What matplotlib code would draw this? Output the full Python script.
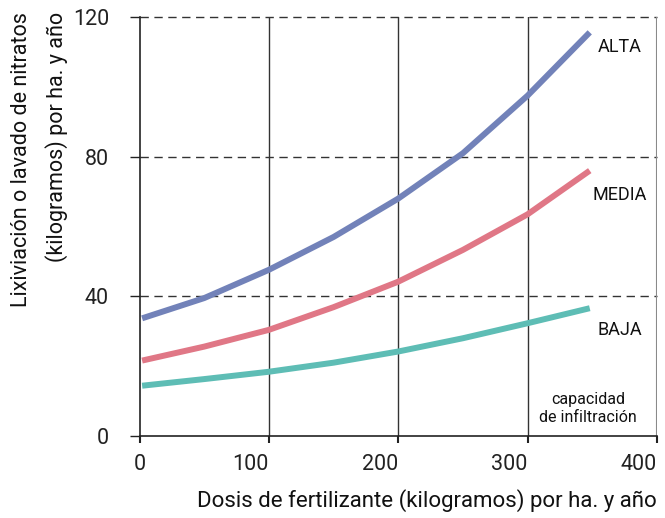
import matplotlib
matplotlib.use("Agg")
import matplotlib.pyplot as plt

plt.rcParams['font.family'] = ['Roboto', 'DejaVu Sans']

# dosis de fertilizante (kg/ha/año)
dosis = [2, 50, 100, 150, 200, 250, 300, 348]
# lixiviación de nitratos por capacidad de infiltración
alta = [33.7, 39.5, 47.6, 57.0, 68.0, 81.0, 97.5, 115.6]
media = [21.6, 25.6, 30.4, 36.9, 44.2, 53.3, 63.5, 76.0]
baja = [14.4, 16.3, 18.4, 21.0, 24.2, 28.0, 32.3, 36.6]

series = [("ALTA", alta, "#7282b9"), ("MEDIA", media, "#e07786"), ("BAJA", baja, "#5ebdb5")]
label_pos = {"ALTA": 111.5, "MEDIA": 69, "BAJA": 30.4}

fig = plt.figure(figsize=(6.65, 5.18), dpi=100)
ax = fig.add_axes([0.2098, 0.1583, 0.7782, 0.8089])

for y in [40, 80, 120]:
    ax.axhline(y, color="#333333", lw=1, ls=(0, (6, 4)), zorder=1, clip_on=False)
for x in [100, 200, 300]:
    ax.axvline(x, color="#333333", lw=1, zorder=1)
ax.axvline(400, color="#8a8a8a", lw=1.5, zorder=1)

for name, vals, col in series:
    ax.plot(dosis, vals, color=col, lw=4.3, solid_capstyle="butt", zorder=3)
    ax.text(371, label_pos[name], name, ha="center", va="center", fontsize=13, color="#111111")

ax.text(346.6, 8, "capacidad\nde infiltración", ha="center", va="center",
        fontsize=11.5, color="#111111", linespacing=1.25)

ax.set_xlim(0, 400)
ax.set_ylim(0, 120)
ax.set_xticks([0, 100, 200, 300, 400])
ax.set_yticks([0, 40, 80, 120])
ax.tick_params(axis="y", direction="out", length=7, width=1, labelsize=15.5, pad=15, color="#222222",
               labelcolor="#222222")
ax.tick_params(axis="x", direction="out", length=5, width=1.5, labelsize=15.5, pad=8, color="#222222",
               labelcolor="#222222")
for lbl in ax.get_xticklabels()[1:]:
    lbl.set_ha("right")

for s in ["top", "right"]:
    ax.spines[s].set_visible(False)
for s in ["left", "bottom"]:
    ax.spines[s].set_color("#222222")
    ax.spines[s].set_linewidth(1.2)

ax.set_xlabel("Dosis de fertilizante (kilogramos) por ha. y año", fontsize=16, color="#111111")
ax.xaxis.set_label_coords(1.0, -0.153)
ax.xaxis.label.set_ha("right")
ax.xaxis.label.set_va("center")

# y label drawn as two lines, both starting at the top
fig.text(22 / 665, 1 - 12 / 518, "Lixiviación o lavado de nitratos", rotation=90,
         ha="center", va="top", fontsize=15.5, color="#111111")
fig.text(57 / 665, 1 - 12 / 518, "(kilogramos) por ha. y año", rotation=90,
         ha="center", va="top", fontsize=15.5, color="#111111")

fig.savefig("out.png", dpi=100)
